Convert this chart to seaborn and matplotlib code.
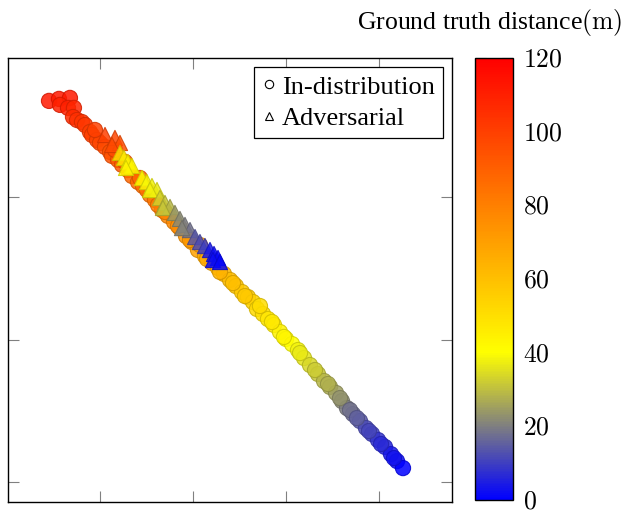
import numpy as np
import pandas as pd
import matplotlib
matplotlib.use("Agg")
import matplotlib.pyplot as plt
import seaborn as sns
from matplotlib.colors import LinearSegmentedColormap, Normalize
from matplotlib.cm import ScalarMappable
from matplotlib.lines import Line2D
from matplotlib.ticker import FuncFormatter

# embedding coordinates + ground truth distance (m)
in_x = [-0.548, -0.441, -0.323, -0.430, -0.344, -0.280, -0.290, -0.247, -0.194, -0.161,
        -0.108, -0.086, -0.032, 0.000, 0.054, 0.108, 0.129, 0.194, 0.237, 0.301,
        0.344, 0.409, 0.462, 0.538, 0.591, 0.667, 0.731, 0.796, 0.860, 0.925,
        0.989, 1.054, 1.129, 1.204, 1.269, 1.333, 1.398, 1.462, 1.527, 1.591,
        1.645, 1.688, 1.753, 1.806, 1.871, 1.935, 2.000, 2.065, 2.129, 2.194,
        2.258, 2.344, 2.409, 2.473, 2.538, 2.602, 2.656, 2.720, 2.796, 2.860,
        2.925, 2.989, 3.065, 3.129, 3.194, 3.258,
        -0.054, 0.161, 0.269, 0.430, 0.505, 0.624, 0.699, 0.839, 0.968, 1.075,
        1.151, 1.290, 1.430, 1.559, 1.720, 1.849, 1.978, 2.151, 2.312, 2.452,
        2.581, 2.688, 2.763, 2.892, 3.022, 3.161]
in_y = [2.674, 2.688, 2.695, 2.646, 2.625, 2.625, 2.561, 2.540, 2.526, 2.505,
        2.456, 2.435, 2.400, 2.379, 2.351, 2.316, 2.288, 2.260, 2.225, 2.189,
        2.147, 2.105, 2.077, 2.014, 1.979, 1.909, 1.867, 1.825, 1.782, 1.726,
        1.684, 1.628, 1.586, 1.537, 1.502, 1.460, 1.418, 1.375, 1.333, 1.298,
        1.263, 1.214, 1.179, 1.144, 1.102, 1.053, 1.004, 0.968, 0.926, 0.870,
        0.821, 0.758, 0.709, 0.667, 0.625, 0.568, 0.519, 0.477, 0.428, 0.379,
        0.337, 0.295, 0.246, 0.196, 0.147, 0.098,
        2.470, 2.330, 2.246, 2.133, 2.049, 1.944, 1.895, 1.796, 1.698, 1.663,
        1.565, 1.474, 1.396, 1.305, 1.235, 1.123, 1.018, 0.905, 0.786, 0.688,
        0.589, 0.505, 0.449, 0.358, 0.267, 0.168]
in_dist = [112, 112, 112, 110, 110, 108, 106, 105, 104, 103,
           101, 100, 99, 98, 97, 95, 94, 92, 91, 90,
           88, 87, 86, 84, 83, 80, 78, 77, 75, 73,
           71, 69, 67, 66, 64, 63, 61, 59, 57, 56,
           54, 52, 50, 48, 46, 44, 42, 40, 38, 36,
           34, 31, 29, 27, 25, 22, 20, 17, 14, 12,
           10, 8, 6, 4, 2, 0,
           100, 96, 92, 88, 85, 82, 79, 76, 72, 70,
           67, 64, 60, 57, 51, 47, 43, 37, 32, 28,
           23, 18, 15, 11, 7, 3]

adv_x = [0.054, 0.161, 0.215, 0.129, 0.215, 0.258, 0.301, 0.344, 0.280, 0.452,
         0.505, 0.559, 0.613, 0.538, 0.645, 0.699, 0.753, 0.677, 0.806, 0.860,
         0.914, 0.968, 0.882, 1.022, 1.075, 1.129, 1.183, 1.226, 1.269, 1.215,
         1.290]
adv_y = [2.435, 2.414, 2.379, 2.365, 2.309, 2.274, 2.246, 2.218, 2.204, 2.133,
         2.105, 2.077, 2.049, 2.049, 1.993, 1.958, 1.930, 1.923, 1.888, 1.846,
         1.804, 1.768, 1.782, 1.719, 1.684, 1.656, 1.628, 1.600, 1.572, 1.558,
         1.544]
adv_dist = [100, 98, 96, 97, 50, 46, 44, 42, 43, 40,
            39, 38, 37, 38, 33, 31, 29, 31, 24, 22,
            20, 18, 21, 14, 12, 10, 4, 2, 1, 2,
            1]

df = pd.DataFrame({
    "x": in_x + adv_x,
    "y": in_y + adv_y,
    "dist": in_dist + adv_dist,
    "kind": ["In-distribution"] * len(in_x) + ["Adversarial"] * len(adv_x),
})

sns.set_theme(style="white")
plt.rcParams["font.family"] = ["Liberation Serif", "DejaVu Serif"]
plt.rcParams["mathtext.fontset"] = "cm"
plt.rcParams["text.color"] = "black"
plt.rcParams["ytick.labelcolor"] = "black"

cmap = LinearSegmentedColormap.from_list("bgyr", [(0, "blue"), (1 / 3, "yellow"), (1, "red")])
norm = Normalize(0, 120)

fig = plt.figure(figsize=(6.29, 5.12), dpi=100)
ax = fig.add_axes([8 / 629, 10 / 512, 444 / 629, 444 / 512])
cax = fig.add_axes([475 / 629, 12 / 512, 38 / 629, 442 / 512])

sns.scatterplot(data=df, x="x", y="y", hue="dist", palette=cmap, hue_norm=(0, 120),
                style="kind", markers={"In-distribution": "o", "Adversarial": "^"},
                s=120, alpha=0.85, linewidth=0.8, legend=False, ax=ax)
# darker edges like the original marks
for coll in ax.collections:
    fc = coll.get_facecolors()
    ec = fc.copy()
    ec[:, :3] *= 0.82
    coll.set_edgecolors(ec)

ax.set_xlim(-0.989, 3.785)
ax.set_ylim(-0.140, 2.975)
ax.set_xticks([0, 1, 2, 3])
ax.set_yticks([0, 1, 2])
ax.set_xlabel("")
ax.set_ylabel("")
ax.tick_params(direction="in", length=8, width=0.8, color="gray",
               top=True, right=True, bottom=True, left=True,
               labelbottom=False, labelleft=False)
for sp in ax.spines.values():
    sp.set_color("black")
    sp.set_linewidth(1)

handles = [Line2D([], [], marker="o", ls="", mfc="white", mec="black", ms=6, mew=0.8),
           Line2D([], [], marker="^", ls="", mfc="white", mec="black", ms=6, mew=0.8)]
leg = ax.legend(handles, ["In-distribution", "Adversarial"], loc="upper right",
                fontsize=19, frameon=True, fancybox=False, edgecolor="black",
                framealpha=1, borderaxespad=0.35, handlelength=0.5, handletextpad=0.25,
                borderpad=0.3, labelspacing=0.3)
leg.get_frame().set_linewidth(0.9)
for t in leg.get_texts():
    t.set_color("black")

cb = fig.colorbar(ScalarMappable(norm=norm, cmap=cmap), cax=cax)
cb.set_ticks([0, 20, 40, 60, 80, 100, 120])
cb.ax.yaxis.set_major_formatter(FuncFormatter(lambda v, p: "$%d$" % v))
cb.ax.tick_params(direction="in", length=8, width=0.8, color="gray", labelcolor="black",
                  left=True, right=True, labelsize=18.5, pad=7)
cb.outline.set_edgecolor("black")
cb.outline.set_linewidth(1)

fig.text(0.779, 0.957, r"Ground truth distance$(\mathrm{m})$", ha="center", va="center",
         fontsize=18.5, color="black")

fig.savefig("out.png", dpi=100)
